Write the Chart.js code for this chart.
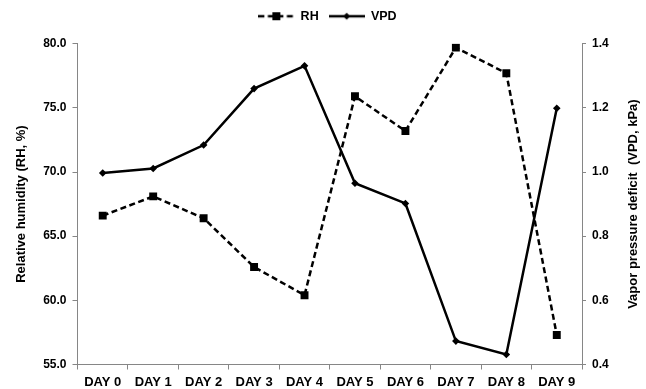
<!DOCTYPE html>
<html>
<head>
<meta charset="utf-8">
<script src="https://cdn.jsdelivr.net/npm/chart.js@4"></script>
<style>
  html, body { margin: 0; padding: 0; background: #ffffff; }
  #wrap { width: 646px; height: 389px; }
</style>
</head>
<body>
<div id="wrap"><canvas id="c" width="646" height="389"></canvas></div>
<script>
const categories = ['DAY 0','DAY 1','DAY 2','DAY 3','DAY 4','DAY 5','DAY 6','DAY 7','DAY 8','DAY 9'];
const rhValues  = [66.6, 68.1, 66.4, 62.6, 60.4, 75.9, 73.2, 79.7, 77.7, 57.3];
const vpdValues = [0.997, 1.011, 1.084, 1.260, 1.331, 0.965, 0.902, 0.473, 0.431, 1.199];
const rhTickRange  = [55, 80, 5];
const vpdTickRange = [0.4, 1.4, 0.2];
const seriesNames = ['RH', 'VPD'];
const axisTitles = ['Relative humidity (RH, %)', 'Vapor pressure deficit  (VPD, kPa)'];

const FONT = "'Liberation Sans', Arial, sans-serif";
const AXIS_COLOR = '#868686';
const PAD_L = 14, PAD_R = 5;

function legendIcon(kind) {
  const cv = document.createElement('canvas');
  cv.width = 36; cv.height = 10;
  const g = cv.getContext('2d');
  g.strokeStyle = '#000'; g.fillStyle = '#000'; g.lineWidth = 2.5;
  if (kind === 'dash') g.setLineDash([6, 3.5]);
  g.beginPath(); g.moveTo(0, 5); g.lineTo(36, 5); g.stroke();
  g.setLineDash([]);
  if (kind === 'dash') {
    g.fillRect(18 - 4, 5 - 4, 8, 8);
  } else {
    g.beginPath(); g.moveTo(18, 1.5); g.lineTo(21.5, 5); g.lineTo(18, 8.5); g.lineTo(14.5, 5); g.closePath(); g.fill();
  }
  return cv;
}
const icons = [legendIcon('dash'), legendIcon('solid')];

const fixLayout = {
  id: 'fixLayout',
  beforeLayout(chart) {
    const lg = chart.legend;
    if (lg && !lg._patched) {
      const orig = lg.fit;
      lg.fit = function () { orig.call(this); this.height = 43.7; };
      lg._patched = true;
    }
  }
};

// Right axis title, drawn reading bottom-to-top as in the reference
const rightTitle = {
  id: 'rightTitle',
  afterDraw(chart) {
    const s = chart.scales.y2;
    const ctx = chart.ctx;
    ctx.save();
    ctx.translate(s.right - 8, (chart.chartArea.top + chart.chartArea.bottom) / 2);
    ctx.rotate(-Math.PI / 2);
    ctx.fillStyle = '#000';
    ctx.font = "bold 13px " + FONT;
    ctx.textAlign = 'center';
    ctx.textBaseline = 'middle';
    ctx.fillText(axisTitles[1], 0, 0);
    ctx.restore();
  }
};

new Chart(document.getElementById('c'), {
  type: 'line',
  data: {
    labels: categories,
    datasets: [
      {
        label: seriesNames[0],
        data: rhValues,
        yAxisID: 'y',
        borderColor: '#000',
        backgroundColor: '#000',
        borderWidth: 2.5,
        borderDash: [6, 3.5],
        pointStyle: 'rect',
        pointRadius: 5.6,
        pointBorderWidth: 0,
        tension: 0,
        fill: false
      },
      {
        label: seriesNames[1],
        data: vpdValues,
        yAxisID: 'y2',
        borderColor: '#000',
        backgroundColor: '#000',
        borderWidth: 2.5,
        pointStyle: 'rectRot',
        pointRadius: 3.8,
        pointBorderWidth: 0,
        tension: 0,
        fill: false
      }
    ]
  },
  options: {
    responsive: false,
    animation: false,
    devicePixelRatio: 1,
    layout: { padding: { left: PAD_L, right: PAD_R, top: 0, bottom: 0 } },
    plugins: {
      legend: {
        position: 'top',
        align: 'center',
        labels: {
          usePointStyle: true,
          pointStyleWidth: 36,
          boxHeight: 10,
          padding: 10,
          color: '#000',
          font: { family: FONT, size: 12.5, weight: 'bold' },
          generateLabels(chart) {
            const items = Chart.defaults.plugins.legend.labels.generateLabels(chart);
            items.forEach((it, i) => { it.pointStyle = icons[i]; });
            return items;
          }
        }
      },
      tooltip: { enabled: false }
    },
    scales: {
      x: {
        type: 'category',
        offset: true,
        afterFit(s) { s.height = 24.5; },
        grid: { offset: true, drawOnChartArea: false, drawTicks: true, tickLength: 5, color: AXIS_COLOR },
        border: { display: true, color: AXIS_COLOR, width: 1 },
        ticks: { color: '#000', font: { family: FONT, size: 13, weight: 'bold' }, padding: 5, maxRotation: 0, autoSkip: false }
      },
      y: {
        position: 'left',
        min: rhTickRange[0], max: rhTickRange[1],
        afterFit(s) { s.width = 77.5 - PAD_L; },
        grid: { drawOnChartArea: false, drawTicks: true, tickLength: 5, color: AXIS_COLOR },
        border: { display: true, color: AXIS_COLOR, width: 1 },
        ticks: {
          stepSize: rhTickRange[2],
          color: '#000',
          font: { family: FONT, size: 12, weight: 'bold' },
          padding: 6,
          callback: v => Number(v).toFixed(1)
        },
        title: {
          display: true,
          text: axisTitles[0],
          color: '#000',
          font: { family: FONT, size: 13, weight: 'bold' },
          padding: 0
        }
      },
      y2: {
        position: 'right',
        min: vpdTickRange[0], max: vpdTickRange[1],
        afterFit(s) { s.width = 646 - 582 - PAD_R; },
        grid: { drawOnChartArea: false, drawTicks: true, tickLength: 4, color: AXIS_COLOR },
        border: { display: true, color: AXIS_COLOR, width: 1 },
        ticks: {
          stepSize: vpdTickRange[2],
          color: '#000',
          font: { family: FONT, size: 12, weight: 'bold' },
          padding: 6,
          callback: v => Number(v).toFixed(1)
        },
        title: { display: false }
      }
    }
  },
  plugins: [fixLayout, rightTitle]
});
</script>
</body>
</html>
